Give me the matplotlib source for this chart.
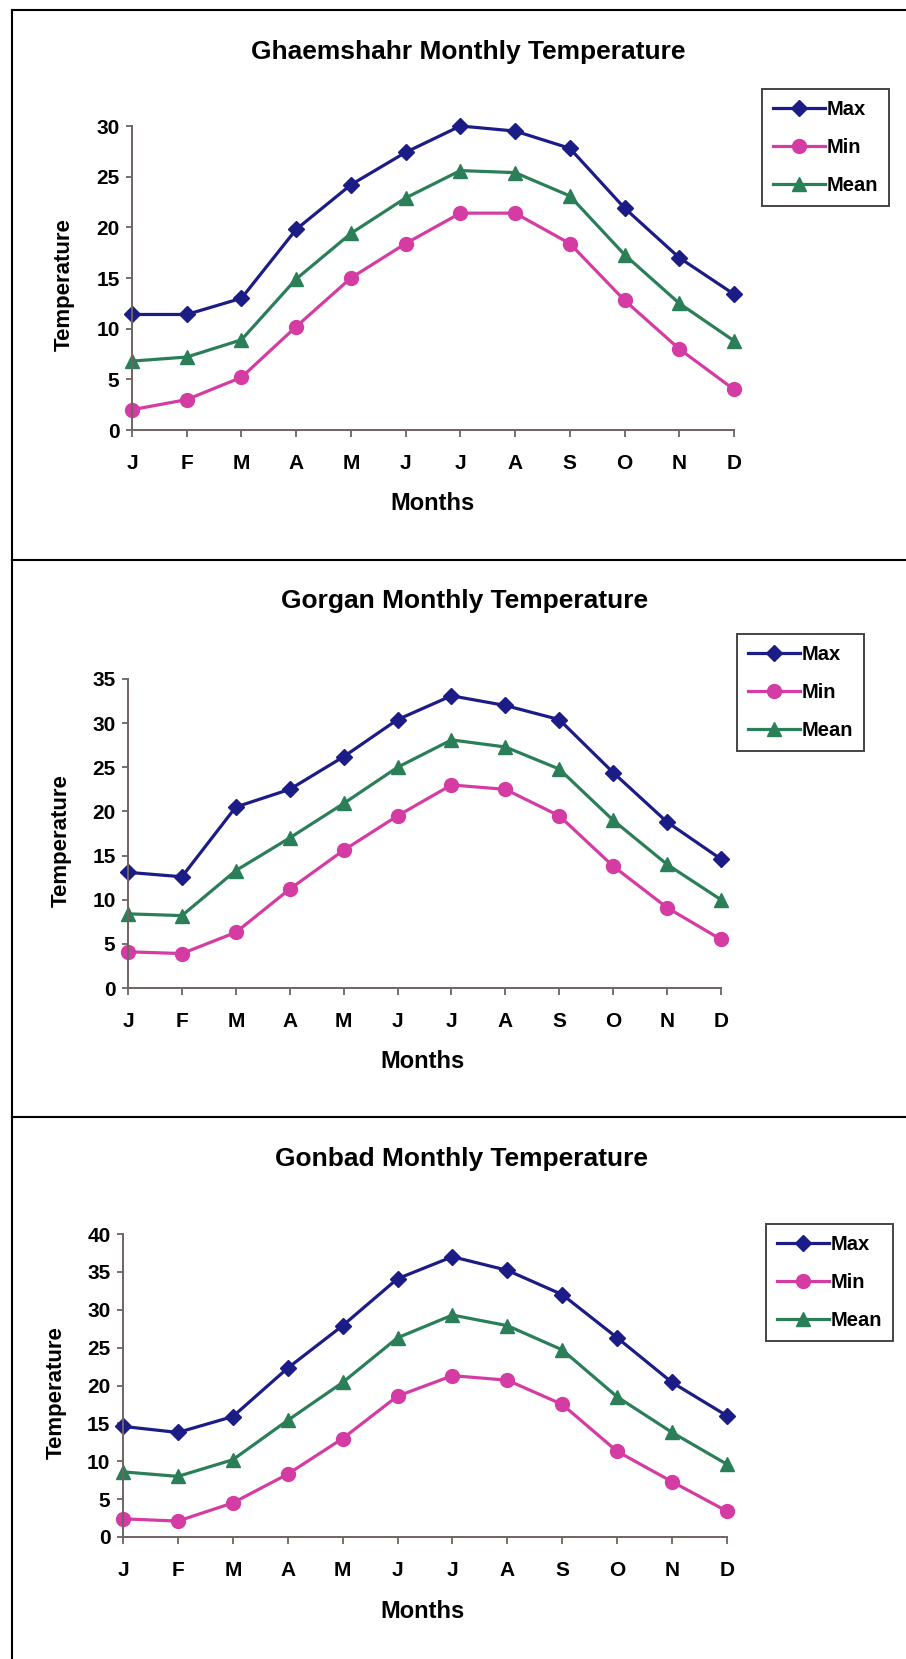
import numpy as np
import matplotlib.pyplot as plt
from matplotlib.lines import Line2D

months = ['J', 'F', 'M', 'A', 'M', 'J', 'J', 'A', 'S', 'O', 'N', 'D']

# Ghaemshahr
ghaem_max = [11.4, 11.4, 13.0, 19.8, 24.2, 27.4, 30.0, 29.5, 27.8, 21.9, 17.0, 13.4]
ghaem_min = [2.0, 3.0, 5.2, 10.2, 15.0, 18.4, 21.4, 21.4, 18.4, 12.8, 8.0, 4.0]
ghaem_mean = [6.8, 7.2, 8.9, 14.9, 19.4, 22.9, 25.6, 25.4, 23.1, 17.3, 12.5, 8.8]

# Gorgan
gorgan_max = [13.1, 12.6, 20.5, 22.5, 26.2, 30.4, 33.1, 32.0, 30.4, 24.4, 18.8, 14.6]
gorgan_min = [4.1, 3.9, 6.3, 11.2, 15.6, 19.5, 23.0, 22.5, 19.5, 13.8, 9.1, 5.5]
gorgan_mean = [8.4, 8.2, 13.3, 17.0, 20.9, 25.0, 28.1, 27.3, 24.8, 19.0, 14.0, 10.0]

# Gonbad
gonbad_max = [14.6, 13.8, 15.9, 22.3, 27.9, 34.1, 37.0, 35.2, 32.0, 26.3, 20.4, 16.0]
gonbad_min = [2.4, 2.1, 4.5, 8.3, 13.0, 18.6, 21.3, 20.7, 17.5, 11.3, 7.3, 3.4]
gonbad_mean = [8.6, 8.0, 10.2, 15.4, 20.4, 26.3, 29.3, 27.9, 24.7, 18.5, 13.8, 9.6]

titles = ['Ghaemshahr Monthly Temperature', 'Gorgan Monthly Temperature',
          'Gonbad Monthly Temperature']
ymaxes = [30, 35, 40]

c_max = '#1c1c86'
c_min = '#d43ca4'
c_mean = '#2a7f58'
axis_col = '#6e6462'

W, H = 906, 1659
fig = plt.figure(figsize=(W / 100, H / 100), dpi=100)
plt.rcParams['font.family'] = ['Liberation Sans', 'DejaVu Sans']
plt.rcParams['font.weight'] = 'bold'

# panel layout in pixels: axes left/right, y of zero, y of top; title, label, legend positions
panels = [
    dict(l=132, r=734, y0=430, yt=126, tx=468, ty=52, mx=433, my=504, lx=64, ly=285, gx=762, gy=89),
    dict(l=128, r=721, y0=988, yt=679, tx=465, ty=601, mx=423, my=1062, lx=61, ly=841, gx=737, gy=634),
    dict(l=123, r=727, y0=1537, yt=1234, tx=461, ty=1159, mx=423, my=1611, lx=56, ly=1393, gx=766, gy=1224),
]
series = [(ghaem_max, ghaem_min, ghaem_mean),
          (gorgan_max, gorgan_min, gorgan_mean),
          (gonbad_max, gonbad_min, gonbad_mean)]

x = np.arange(len(months))

for p, (smax, smin, smean), title, ymax in zip(panels, series, titles, ymaxes):
    ax = fig.add_axes([p['l'] / W, 1 - p['y0'] / H, (p['r'] - p['l']) / W, (p['y0'] - p['yt']) / H])
    ax.plot(x, smax, color=c_max, lw=2.3, marker='D', ms=8.5, label='Max', clip_on=False)
    ax.plot(x, smin, color=c_min, lw=2.3, marker='o', ms=10, label='Min', clip_on=False)
    ax.plot(x, smean, color=c_mean, lw=2.3, marker='^', ms=10.5, label='Mean', clip_on=False)
    ax.set_xlim(0, 11)
    ax.set_ylim(0, ymax)
    ax.set_yticks(np.arange(0, ymax + 1, 5))
    ax.set_xticks(x)
    ax.set_xticklabels(months)
    for s in ['top', 'right']:
        ax.spines[s].set_visible(False)
    for s in ['left', 'bottom']:
        ax.spines[s].set_color(axis_col)
        ax.spines[s].set_linewidth(1.4)
    ax.tick_params(axis='x', length=5, width=1.3, color=axis_col, pad=12, labelsize=15)
    ax.tick_params(axis='y', length=4, width=1.3, color=axis_col, pad=5, labelsize=15)
    for lab in ax.get_xticklabels() + ax.get_yticklabels():
        lab.set_fontweight('bold')
    ax.patch.set_alpha(0)

    fig.text(p['tx'] / W, 1 - p['ty'] / H, title, ha='center', va='center',
             fontsize=19, fontweight='bold')
    fig.text(p['mx'] / W, 1 - p['my'] / H, 'Months', ha='center', va='center',
             fontsize=17, fontweight='bold')
    fig.text(p['lx'] / W, 1 - p['ly'] / H, 'Temperature', ha='center', va='center',
             rotation=90, fontsize=16, fontweight='bold')
    leg = fig.legend(handles=ax.get_lines(), loc='upper left',
                     bbox_to_anchor=(p['gx'] / W, 1 - p['gy'] / H),
                     borderaxespad=0, fancybox=False, framealpha=1, edgecolor='#444444',
                     fontsize=14.5, handlelength=2.6, handletextpad=0.05,
                     labelspacing=0.95, borderpad=0.55)
    leg.get_frame().set_linewidth(1.4)
    for t in leg.get_texts():
        t.set_fontweight('bold')

# panel frame lines
fig.add_artist(Line2D([12 / W, 12 / W], [1 - 10 / H, 0], color='black', lw=1.5))
for yy in [10, 560, 1117]:
    fig.add_artist(Line2D([12 / W, 1], [1 - yy / H, 1 - yy / H], color='black', lw=1.5))

fig.savefig('out.png', dpi=100)
